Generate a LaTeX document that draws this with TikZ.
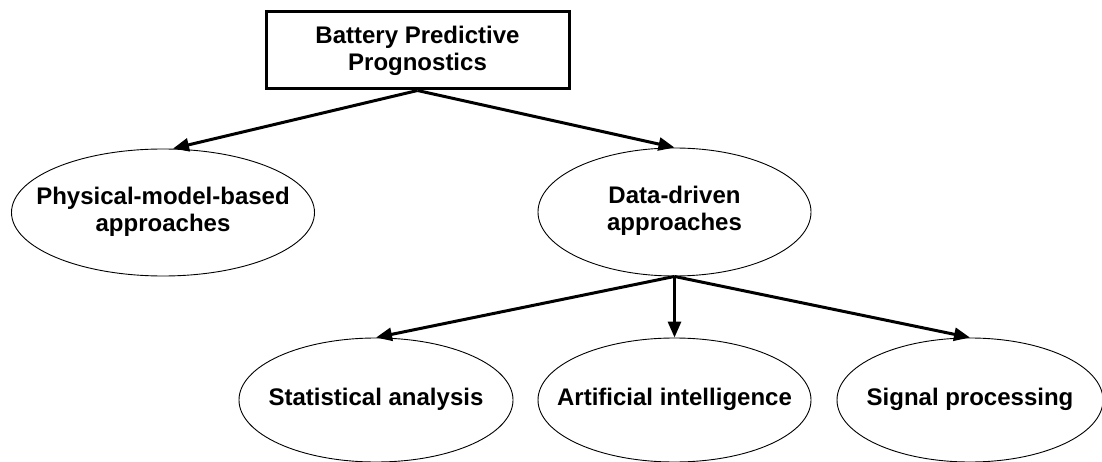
\documentclass[tikz,border=0pt]{standalone}
\usepackage{fontspec}
\setmainfont{Liberation Sans}
\usetikzlibrary{shapes.geometric,arrows.meta}
\newcommand{\zwtext}[1]{\makebox[0pt][c]{\begin{tabular}{@{}c@{}}#1\end{tabular}}}
\tikzset{
  lbl/.style={font=\fontsize{24}{27}\selectfont\bfseries},
  topbox/.style={draw, line width=3pt, rectangle, minimum width=303pt, minimum height=77pt, inner sep=0pt, lbl, align=center},
  oval/.style={draw, line width=0.9pt, ellipse, inner sep=0pt, lbl},
  conn/.style={line width=3pt, -{Triangle[length=16pt,width=13pt]}}
}
\begin{document}
\begin{tikzpicture}[x=1pt,y=-1pt]
\useasboundingbox (0,0) rectangle (1102,462);
\clip (0,0) rectangle (1102,462);
\fill[white] (0,0) rectangle (1102,462);
\node[topbox] (root) at (417.5,50.5) {Battery Predictive\\Prognostics};
\node[oval, minimum width=303pt, minimum height=127pt] (phys) at (163,212.5) {\zwtext{Physical-model-based\\approaches}};
\node[oval, minimum width=273pt, minimum height=128pt] (data) at (674.5,212) {\zwtext{Data-driven\\approaches}};
\node[oval, minimum width=274pt, minimum height=124pt] (stat) at (376,400) {\zwtext{Statistical analysis}};
\node[oval, minimum width=273pt, minimum height=124pt] (ai) at (674.5,400) {\zwtext{Artificial intelligence}};
\node[oval, minimum width=266pt, minimum height=124pt] (sig) at (970,400) {\zwtext{Signal processing}};
\draw[conn] (root.south) -- ([xshift=10pt]phys.north);
\draw[conn] (root.south) -- (data.north);
\draw[conn] (data.south) -- (stat.north);
\draw[conn] (data.south) -- (ai.north);
\draw[conn] (data.south) -- (sig.north);
\end{tikzpicture}
\end{document}
